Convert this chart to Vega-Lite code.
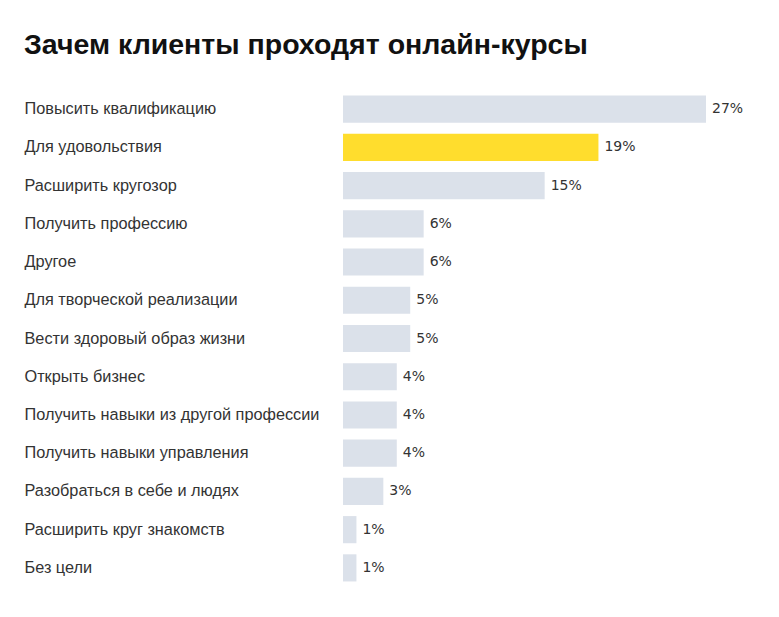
{
  "$schema": "https://vega.github.io/schema/vega-lite/v6.json",
  "width": 363,
  "height": 497,
  "autosize": {"type": "none"},
  "padding": {"left": 343, "top": 90, "right": 73, "bottom": 30},
  "background": "white",
  "title": {
    "text": "Зачем клиенты проходят онлайн-курсы",
    "anchor": "start",
    "frame": "bounds",
    "font": "Liberation Sans",
    "fontSize": 28.5,
    "fontWeight": "bold",
    "color": "#111111",
    "offset": 31
  },
  "data": {
    "values": [
      {"reason": "Повысить квалификацию", "pct": 27, "label": "27%", "highlight": false},
      {"reason": "Для удовольствия", "pct": 19, "label": "19%", "highlight": true},
      {"reason": "Расширить кругозор", "pct": 15, "label": "15%", "highlight": false},
      {"reason": "Получить профессию", "pct": 6, "label": "6%", "highlight": false},
      {"reason": "Другое", "pct": 6, "label": "6%", "highlight": false},
      {"reason": "Для творческой реализации", "pct": 5, "label": "5%", "highlight": false},
      {"reason": "Вести здоровый образ жизни", "pct": 5, "label": "5%", "highlight": false},
      {"reason": "Открыть бизнес", "pct": 4, "label": "4%", "highlight": false},
      {"reason": "Получить навыки из другой профессии", "pct": 4, "label": "4%", "highlight": false},
      {"reason": "Получить навыки управления", "pct": 4, "label": "4%", "highlight": false},
      {"reason": "Разобраться в себе и людях", "pct": 3, "label": "3%", "highlight": false},
      {"reason": "Расширить круг знакомств", "pct": 1, "label": "1%", "highlight": false},
      {"reason": "Без цели", "pct": 1, "label": "1%", "highlight": false}
    ]
  },
  "config": {"view": {"stroke": null}},
  "encoding": {
    "y": {
      "field": "reason",
      "type": "nominal",
      "sort": null,
      "scale": {"paddingInner": 0.29, "paddingOuter": 0.145},
      "axis": {
        "title": null,
        "domain": false,
        "ticks": false,
        "tickSize": 0,
        "labelAlign": "left",
        "labelPadding": 319,
        "labelFont": "Liberation Sans",
        "labelFontSize": 16.3,
        "labelColor": "#333333",
        "labelLimit": 400
      }
    },
    "x": {
      "field": "pct",
      "type": "quantitative",
      "scale": {"domain": [0, 27]},
      "axis": null
    }
  },
  "layer": [
    {
      "mark": {"type": "bar"},
      "encoding": {
        "color": {
          "field": "highlight",
          "type": "nominal",
          "scale": {"domain": [false, true], "range": ["#dbe1ea", "#ffdd2d"]},
          "legend": null
        }
      }
    },
    {
      "mark": {"type": "text", "align": "left", "dx": 6, "font": "DejaVu Sans", "fontSize": 14, "color": "#333333"},
      "encoding": {
        "text": {"field": "label", "type": "nominal"}
      }
    }
  ]
}
